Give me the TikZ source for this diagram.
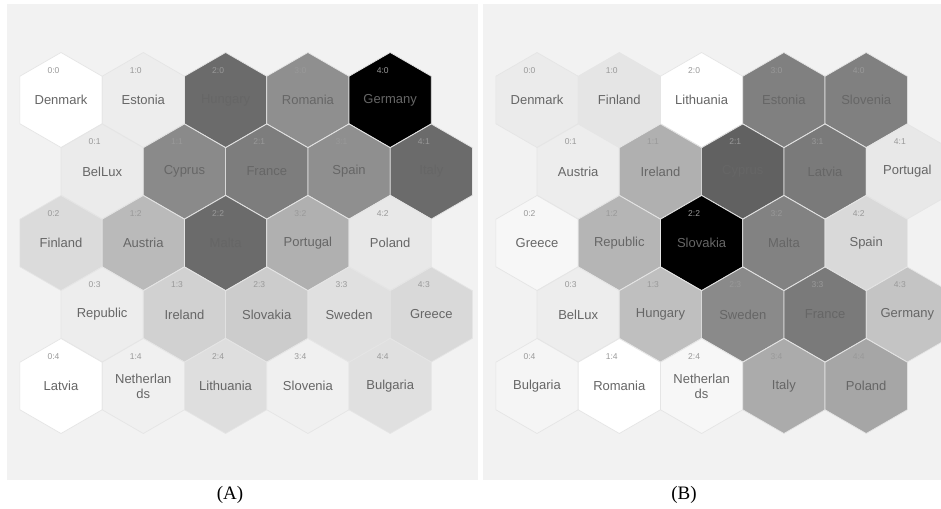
\documentclass[tikz,border=0pt]{standalone}
\usepackage{fontspec}
\setmainfont{Liberation Serif}
\newfontfamily\hexfont{Liberation Sans}
\usepackage{tikz}
\usetikzlibrary{calc}
\def\hexcell#1(#2:#3)[#4]#5{%
  \pgfmathsetmacro\hx{\panelx+61+82.3*#2+41.15*mod(#3,2)}%
  \pgfmathsetmacro\hy{100+71.5*#3}%
  \filldraw[hexedge,fill=#4] (\hx,\hy) +(30:47.5) -- +(90:47.5) -- +(150:47.5) -- +(210:47.5) -- +(270:47.5) -- +(330:47.5) -- cycle;%
  \node[country] (#1#2#3) at (\hx,\hy) {#5};%
  \node[cellid] (#1#2#3id) at ($(#1#2#3.center)+(-7.5,-29.5)$) {#2:#3};%
}

\begin{document}
\begin{tikzpicture}[x=1pt,y=-1pt,
    panelbg/.style={fill=black!5},
    hexedge/.style={draw=white!90!black, line width=0.7pt},
    country/.style={font=\hexfont\fontsize{13}{15}\selectfont, text=black!60, align=center, inner sep=0pt},
    cellid/.style={font=\hexfont\fontsize{8.5}{9}\selectfont, text=black!40, inner sep=0pt},
    caption/.style={font=\fontsize{19}{22}\selectfont, inner sep=0pt}]
		%%%%% START %%%%%
		
		\useasboundingbox (0,0) rectangle (941,508);
		\fill[panelbg] (7,4) rectangle (478,480);
		\fill[panelbg] (482.5,4) rectangle (941,480);
		
		%% map (A)
		\def\panelx{0}
		\hexcell a(0:0)[black!0]{Denmark}
		\hexcell a(1:0)[black!7]{Estonia}
		\hexcell a(2:0)[black!58]{Hungary}
		\hexcell a(3:0)[black!44]{Romania}
		\hexcell a(4:0)[black!100]{Germany}
		\hexcell a(0:1)[black!8]{BelLux}
		\hexcell a(1:1)[black!46]{Cyprus}
		\hexcell a(2:1)[black!51]{France}
		\hexcell a(3:1)[black!44]{Spain}
		\hexcell a(4:1)[black!58]{Italy}
		\hexcell a(0:2)[black!14]{Finland}
		\hexcell a(1:2)[black!27]{Austria}
		\hexcell a(2:2)[black!58]{Malta}
		\hexcell a(3:2)[black!31]{Portugal}
		\hexcell a(4:2)[black!9]{Poland}
		\hexcell a(0:3)[black!7]{Republic}
		\hexcell a(1:3)[black!18]{Ireland}
		\hexcell a(2:3)[black!20]{Slovakia}
		\hexcell a(3:3)[black!12]{Sweden}
		\hexcell a(4:3)[black!15]{Greece}
		\hexcell a(0:4)[black!0]{Latvia}
		\hexcell a(1:4)[black!6]{Netherlan\\ds}
		\hexcell a(2:4)[black!13]{Lithuania}
		\hexcell a(3:4)[black!6]{Slovenia}
		\hexcell a(4:4)[black!12]{Bulgaria}
		
		%% map (B)
		\def\panelx{476}
		\hexcell b(0:0)[black!8]{Denmark}
		\hexcell b(1:0)[black!10]{Finland}
		\hexcell b(2:0)[black!0]{Lithuania}
		\hexcell b(3:0)[black!50]{Estonia}
		\hexcell b(4:0)[black!50]{Slovenia}
		\hexcell b(0:1)[black!7]{Austria}
		\hexcell b(1:1)[black!31]{Ireland}
		\hexcell b(2:1)[black!62]{Cyprus}
		\hexcell b(3:1)[black!52]{Latvia}
		\hexcell b(4:1)[black!9]{Portugal}
		\hexcell b(0:2)[black!3]{Greece}
		\hexcell b(1:2)[black!29]{Republic}
		\hexcell b(2:2)[black!100]{Slovakia}
		\hexcell b(3:2)[black!49]{Malta}
		\hexcell b(4:2)[black!15]{Spain}
		\hexcell b(0:3)[black!7]{BelLux}
		\hexcell b(1:3)[black!25]{Hungary}
		\hexcell b(2:3)[black!46]{Sweden}
		\hexcell b(3:3)[black!52]{France}
		\hexcell b(4:3)[black!23]{Germany}
		\hexcell b(0:4)[black!4]{Bulgaria}
		\hexcell b(1:4)[black!0]{Romania}
		\hexcell b(2:4)[black!3]{Netherlan\\ds}
		\hexcell b(3:4)[black!33]{Italy}
		\hexcell b(4:4)[black!35]{Poland}
		
		\node[caption] (capa) at (230,495) {(A)};
		\node[caption] (capb) at (684,495) {(B)};
		
		%%%%% END %%%%%
\end{tikzpicture}
\end{document}
